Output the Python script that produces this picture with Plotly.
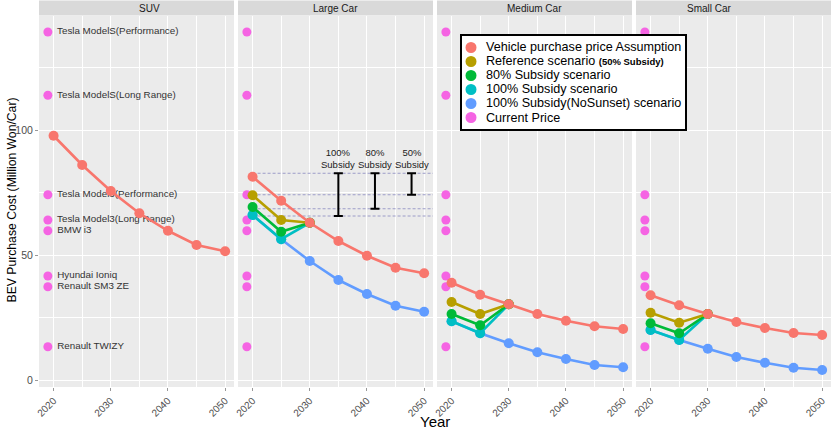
import plotly.graph_objects as go

# ---------------- data ----------------
panels = ["SUV", "Large Car", "Medium Car", "Small Car"]
years = [2020, 2025, 2030, 2035, 2040, 2045, 2050]
scen_years = [2020, 2025, 2030]

assump_suv = [97.7, 86.0, 75.6, 66.7, 59.7, 54.0, 51.5]
assump_large = [81.3, 71.7, 62.9, 55.6, 49.7, 44.9, 42.7]
assump_medium = [38.9, 34.1, 30.3, 26.4, 23.7, 21.5, 20.4]
assump_small = [33.9, 29.9, 26.4, 23.2, 20.8, 18.8, 18.0]

ref_large = [73.9, 64.0, 62.9]
ref_medium = [31.2, 26.4, 30.3]
ref_small = [26.9, 22.9, 26.4]

sub80_large = [69.2, 59.3, 62.9]
sub80_medium = [26.4, 21.9, 30.3]
sub80_small = [22.7, 18.7, 26.4]

sub100_large = [66.0, 56.3, 62.9]
sub100_medium = [23.5, 18.7, 30.3]
sub100_small = [20.0, 16.0, 26.4]

nosunset_large = [66.0, 56.3, 47.6, 40.0, 34.4, 29.7, 27.3]
nosunset_medium = [23.5, 18.7, 14.7, 11.1, 8.4, 6.0, 5.1]
nosunset_small = [20.0, 16.0, 12.5, 9.2, 6.9, 4.9, 4.0]

current_year = 2019
current_names = ["Tesla ModelS(Performance)", "Tesla ModelS(Long Range)",
                 "Tesla Model3(Performance)", "Tesla Model3(Long Range)",
                 "BMW i3", "Hyundai Ioniq", "Renault SM3 ZE", "Renault TWIZY"]
current_prices = [139.2, 113.9, 74.1, 64.0, 59.7, 41.6, 37.3, 13.3]

# subsidy annotation (Large Car panel)
subsidy_labels = ["100%<br>Subsidy", "80%<br>Subsidy", "50%<br>Subsidy"]
subsidy_x = [2035, 2041.4, 2047.8]
subsidy_top = [82.7, 82.7, 82.7]
subsidy_bottom = [65.6, 68.5, 74.1]
guide_levels = [82.7, 74.1, 68.5, 65.6]

legend_labels = ["Vehicle purchase price Assumption",
                 "Reference scenario <b><span style='font-size:9.5px'>(50% Subsidy)</span></b>",
                 "80% Subsidy scenario", "100% Subsidy scenario",
                 "100% Subsidy(NoSunset) scenario", "Current Price"]

x_ticks = [2020, 2030, 2040, 2050]
y_ticks = [0, 50, 100]

# ---------------- style ----------------
C_ASSUMP = "#F8766D"
C_REF = "#B79F00"
C_80 = "#00BA38"
C_100 = "#00BFC4"
C_NOS = "#619CFF"
C_CUR = "#F564E3"
legend_colors = [C_ASSUMP, C_REF, C_80, C_100, C_NOS, C_CUR]
FONT = "Liberation Sans, Arial, sans-serif"

W, H = 836, 434
ML, MR, MT, MB = 39, 5, 16, 47
PW = W - ML - MR
PH = H - MT - MB
panel_w = 195
gap = 4
XR = [2017.45, 2051.55]
YR = [-2.8, 145.6]
LW = 2.6
MS = 10

fig = go.Figure()

def ax(i):
    return ("x" if i == 0 else f"x{i+1}"), ("y" if i == 0 else f"y{i+1}")

def line_trace(i, xs, ys, color):
    xa, ya = ax(i)
    fig.add_trace(go.Scatter(x=xs, y=ys, mode="lines+markers", xaxis=xa, yaxis=ya,
                             line=dict(color=color, width=LW),
                             marker=dict(color=color, size=MS),
                             showlegend=False, hoverinfo="skip"))

assump = [assump_suv, assump_large, assump_medium, assump_small]
refs = [None, ref_large, ref_medium, ref_small]
s80 = [None, sub80_large, sub80_medium, sub80_small]
s100 = [None, sub100_large, sub100_medium, sub100_small]
nos = [None, nosunset_large, nosunset_medium, nosunset_small]

for i in range(4):
    xa, ya = ax(i)
    if i == 0:
        fig.add_trace(go.Scatter(x=[current_year] * len(current_prices), y=current_prices,
                                 mode="markers+text", text=[" " + n for n in current_names],
                                 textposition="middle right",
                                 textfont=dict(family=FONT, size=9.8, color="#333333"),
                                 marker=dict(color=C_CUR, size=9), xaxis=xa, yaxis=ya,
                                 showlegend=False, hoverinfo="skip", cliponaxis=False))
    else:
        fig.add_trace(go.Scatter(x=[current_year] * len(current_prices), y=current_prices,
                                 mode="markers", marker=dict(color=C_CUR, size=9),
                                 xaxis=xa, yaxis=ya, showlegend=False, hoverinfo="skip"))
    if nos[i] is not None:
        line_trace(i, years, nos[i], C_NOS)
        line_trace(i, scen_years, s100[i], C_100)
        line_trace(i, scen_years, s80[i], C_80)
        line_trace(i, scen_years, refs[i], C_REF)
    line_trace(i, years, assump[i], C_ASSUMP)

# subsidy error bars in Large Car panel
for k in range(3):
    mid = (subsidy_top[k] + subsidy_bottom[k]) / 2
    half = (subsidy_top[k] - subsidy_bottom[k]) / 2
    fig.add_trace(go.Scatter(x=[subsidy_x[k]], y=[mid], mode="markers",
                             marker=dict(size=1, opacity=0), xaxis="x2", yaxis="y2",
                             error_y=dict(type="data", array=[half], visible=True,
                                          color="black", thickness=2, width=4.5),
                             showlegend=False, hoverinfo="skip"))

shapes = []
annotations = []
for lv in guide_levels:
    shapes.append(dict(type="line", xref="x2", yref="y2", x0=2020, x1=XR[1], y0=lv, y1=lv,
                       line=dict(color="#9C9CC8", width=1, dash="3px,2px"), layer="between"))
for k in range(3):
    annotations.append(dict(x=subsidy_x[k], y=subsidy_top[k], xref="x2", yref="y2",
                            text=subsidy_labels[k], showarrow=False, yanchor="bottom",
                            yshift=1, align="center",
                            font=dict(family=FONT, size=9.5, color="#222222")))

layout_axes = {}
for i in range(4):
    x0 = (i * (panel_w + gap)) / PW
    x1 = (i * (panel_w + gap) + panel_w) / PW
    xa, ya = ax(i)
    xkey = "xaxis" if i == 0 else f"xaxis{i+1}"
    ykey = "yaxis" if i == 0 else f"yaxis{i+1}"
    layout_axes[xkey] = dict(domain=[x0, x1], range=XR, anchor=ya, tickvals=x_ticks,
                             tickangle=-45, ticks="outside", ticklen=3, tickcolor="#999999",
                             tickfont=dict(family=FONT, size=10, color="#4D4D4D"),
                             showgrid=True, gridcolor="white", gridwidth=1.1, zeroline=False,
                             showline=False,
                             minor=dict(dtick=5, tick0=2020, showgrid=True, gridcolor="white",
                                        gridwidth=0.5, ticks=""))
    yd = dict(domain=[0, 1], range=YR, anchor=xa, tickvals=y_ticks,
              showgrid=True, gridcolor="white", gridwidth=1.1, zeroline=False, showline=False,
              minor=dict(dtick=25, tick0=0, showgrid=True, gridcolor="white", gridwidth=0.5, ticks=""))
    if i == 0:
        yd.update(ticks="outside", ticklen=3, tickcolor="#999999",
                  tickfont=dict(family=FONT, size=10.5, color="#4D4D4D"))
    else:
        yd.update(matches="y", showticklabels=False, ticks="")
    layout_axes[ykey] = yd
    # strip
    shapes.append(dict(type="rect", xref="paper", yref="paper", x0=x0, x1=x1,
                       y0=1 + 0.5 / PH, y1=1 + 15.5 / PH, fillcolor="#D9D9D9",
                       line=dict(width=0), layer="below"))
    annotations.append(dict(x=(x0 + x1) / 2, y=1 + 8 / PH, xref="paper", yref="paper",
                            text=panels[i], showarrow=False, yanchor="middle",
                            font=dict(family=FONT, size=10, color="#1A1A1A")))

def px_x(p):
    return (p - ML) / PW
def px_y(p):
    return (PH + MT - p) / PH

# axis titles
annotations.append(dict(x=px_x(12), y=px_y(200.5), xref="paper", yref="paper",
                        text="BEV Purchase Cost (Million Won/Car)", textangle=-90,
                        showarrow=False, xanchor="center", yanchor="middle",
                        font=dict(family=FONT, size=12.2, color="black")))
annotations.append(dict(x=px_x(435), y=px_y(421), xref="paper", yref="paper",
                        text="Year", showarrow=False, xanchor="center", yanchor="middle",
                        font=dict(family=FONT, size=15, color="black")))

# manual legend box
shapes.append(dict(type="rect", xref="paper", yref="paper", x0=px_x(461), x1=px_x(686),
                   y0=px_y(130), y1=px_y(35), fillcolor="white",
                   line=dict(color="black", width=2), layer="above"))
for k, (lab, col) in enumerate(zip(legend_labels, legend_colors)):
    cy = 47.5 + 14 * k
    shapes.append(dict(type="circle", xref="paper", yref="paper", xsizemode="pixel",
                       ysizemode="pixel", xanchor=px_x(471), yanchor=px_y(cy),
                       x0=-5.5, x1=5.5, y0=-5.5, y1=5.5, fillcolor=col,
                       line=dict(width=0), layer="above"))
    annotations.append(dict(x=px_x(484), y=px_y(cy), xref="paper", yref="paper",
                            text=lab, showarrow=False, xanchor="left", yanchor="middle",
                            font=dict(family=FONT, size=12.6, color="black")))

fig.update_layout(width=W, height=H, margin=dict(l=ML, r=MR, t=MT, b=MB),
                  paper_bgcolor="white", plot_bgcolor="#EBEBEB",
                  shapes=shapes, annotations=annotations, showlegend=False,
                  **layout_axes)

fig.write_html("out.html", config={"displayModeBar": False},
               post_script="document.body.style.margin='0';")
